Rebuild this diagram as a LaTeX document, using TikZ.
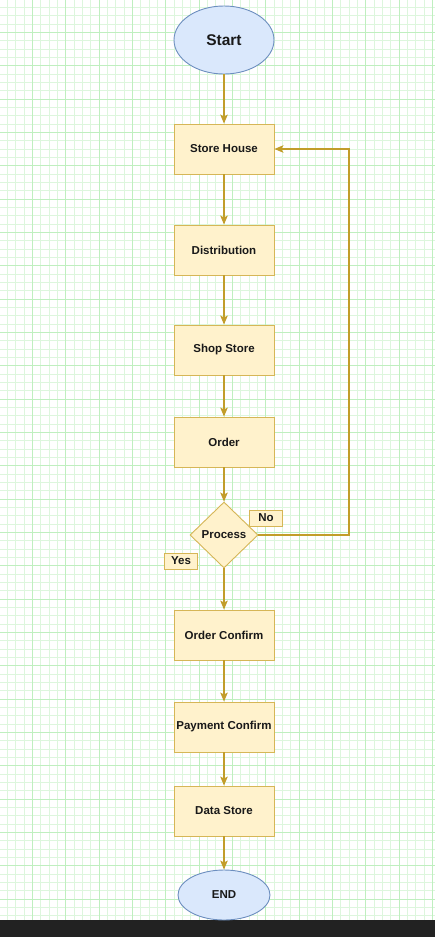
\documentclass[tikz,border=0pt]{standalone}
\usepackage{fontspec}
\setmainfont{Liberation Sans}
\usetikzlibrary{arrows.meta, shapes.geometric}
\definecolor{gridmajor}{HTML}{BFEFBF}
\definecolor{gridminor}{HTML}{DDF6DD}
\definecolor{termfill}{HTML}{DAE8FC}
\definecolor{termline}{HTML}{6C8EBF}
\definecolor{boxfill}{HTML}{FFF2CC}
\definecolor{boxline}{HTML}{D6B656}
\definecolor{flowcolor}{HTML}{C29D2A}
\definecolor{barcolor}{HTML}{222222}

\begin{document}
\begin{tikzpicture}[
    x=1pt, y=-1pt,
    every node/.style={font=\bfseries\fontsize{11.5}{13}\selectfont, text=black!90},
    term/.style={ellipse, draw=termline, fill=termfill, line width=0.9pt, inner sep=0pt},
    stepbox/.style={rectangle, draw=boxline, fill=boxfill, line width=0.9pt,
        minimum width=100pt, minimum height=50pt, inner sep=0pt},
    choice/.style={diamond, draw=boxline, fill=boxfill, line width=0.9pt,
        minimum width=68pt, minimum height=66pt, inner sep=0pt},
    tagbox/.style={rectangle, draw=boxline, fill=boxfill, line width=0.8pt,
        minimum width=33pt, minimum height=16pt, inner sep=0pt},
    flow/.style={draw=flowcolor, line width=1.1pt, -{Stealth[length=9pt, width=7.5pt, inset=2pt]}},
]
\useasboundingbox (0,0) rectangle (435,937);

% ============================================================ background grid
\fill[white] (0,0) rectangle (435,920);
\foreach \i in {0,...,53}{
    \draw[gridminor, line width=0.6pt] ({-1+8.333*\i},0) -- ++(0,920);
}
\foreach \i in {0,...,111}{
    \draw[gridminor, line width=0.6pt] (0,{-1+8.333*\i}) -- ++(435,0);
}
\foreach \i in {0,...,13}{
    \draw[gridmajor, line width=0.9pt] ({-1+33.333*\i},0) -- ++(0,920);
}
\foreach \i in {0,...,28}{
    \draw[gridmajor, line width=0.9pt] (0,{-1+33.333*\i}) -- ++(435,0);
}
\fill[barcolor] (0,920) rectangle (435,937);

% ============================================================ the chain
\node[term, minimum width=100pt, minimum height=68pt,
    font=\bfseries\fontsize{15.5}{17}\selectfont] (start) at (224,40) {Start};
\node[stepbox] (store)   at (224,149) {Store House};
\node[stepbox] (distrib) at (224,250) {Distribution};
\node[stepbox] (shop)    at (224,350) {Shop Store};
\node[stepbox] (order)   at (224,442) {Order};
\node[choice]  (proc)    at (224,535) {Process};
\node[stepbox] (confirm) at (224,635) {Order Confirm};
\node[stepbox] (payment) at (224,727) {Payment Confirm};
\node[stepbox] (data)    at (224,811) {Data Store};
\node[term, minimum width=92pt, minimum height=50pt] (finish) at (224,895) {END};

% decision tags
\node[tagbox] (no)  at (266,518) {No};
\node[tagbox] (yes) at (181,561) {Yes};

% ============================================================ connectors
\foreach \a/\b in {start/store, store/distrib, distrib/shop, shop/order,
    order/proc, proc/confirm, confirm/payment, payment/data, data/finish}{
    \draw[flow] (\a) -- (\b);
}
\coordinate (loopc) at (349,149);
\draw[flow] (proc.east) -| (loopc) -- (store.east);

\end{tikzpicture}
\end{document}
